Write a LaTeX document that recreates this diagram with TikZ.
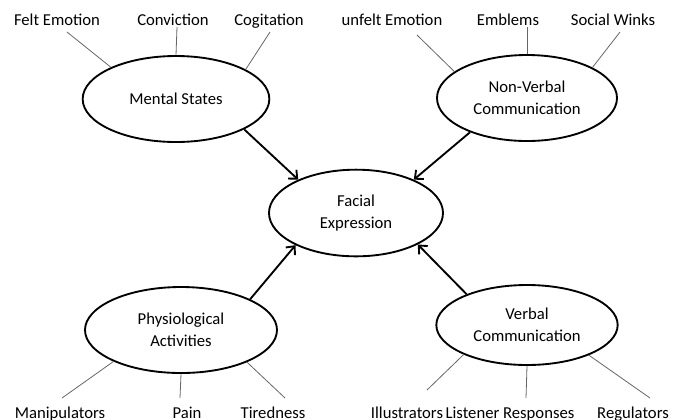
\documentclass[tikz,border=0pt]{standalone}
\usepackage{fontspec}
\setmainfont{Carlito}
\usetikzlibrary{shapes.geometric,arrows.meta}

\begin{document}
\begin{tikzpicture}[x=0.75pt,y=-0.75pt,
	bubble/.style={ellipse,draw,line width=1.4pt,inner sep=0pt,align=center,font=\fontsize{12.5}{16.5}\selectfont},
	lbl/.style={anchor=base,inner sep=0pt,font=\fontsize{12.5}{15}\selectfont},
	spoke/.style={draw=black!60,line width=0.6pt},
	feed/.style={line width=1.4pt,-{Straight Barb[length=5pt,width=9pt]}}]
\useasboundingbox (0,0) rectangle (673,419);

% the five bubbles
\node[bubble,minimum width=140pt,minimum height=64.5pt] (mental) at (176,99) {Mental States};
\node[bubble,minimum width=135pt,minimum height=64.5pt] (nonverbal) at (527,98) {Non-Verbal\\Communication};
\node[bubble,minimum width=130.5pt,minimum height=65pt] (facial) at (356,213) {Facial\\Expression};
\node[bubble,minimum width=144pt,minimum height=64.5pt] (physio) at (181,330) {Physiological\\Activities};
\node[bubble,minimum width=136pt,minimum height=60pt] (verbal) at (527,325) {Verbal\\Communication};

% labels round the outer bubbles
\node[lbl] (felt) at (57,25) {Felt Emotion};
\node[lbl] (conviction) at (173,25) {Conviction};
\node[lbl] (cogitation) at (269,25) {Cogitation};
\node[lbl] (unfelt) at (392,25) {unfelt Emotion};
\node[lbl] (emblems) at (508,25) {Emblems};
\node[lbl] (winks) at (613,25) {Social Winks};
\node[lbl] (manip) at (60,418) {Manipulators};
\node[lbl] (pain) at (187,418) {Pain};
\node[lbl] (tired) at (273,418) {Tiredness};
\node[lbl] (illus) at (407,418) {Illustrators};
\node[lbl] (listener) at (510,418) {Listener Responses};
\node[lbl] (regul) at (633,418) {Regulators};

% free ends of the spokes
\coordinate (felt-end) at (67,32);
\coordinate (conviction-end) at (177,27);
\coordinate (cogitation-end) at (270,32);
\coordinate (unfelt-end) at (417,35);
\coordinate (emblems-end) at (527,27);
\coordinate (winks-end) at (620,32);
\coordinate (manip-end) at (62,398);
\coordinate (pain-end) at (180,398);
\coordinate (tired-end) at (285,398);
\coordinate (illus-end) at (427,390);
\coordinate (listener-end) at (526,398);
\coordinate (regul-end) at (650,398);

\draw[spoke] (mental.154.5) -- (felt-end);
\draw[spoke] (mental.north) -- (conviction-end);
\draw[spoke] (mental.23) -- (cogitation-end);
\draw[spoke] (nonverbal.160) -- (unfelt-end);
\draw[spoke] (nonverbal.north) -- (emblems-end);
\draw[spoke] (nonverbal.25.5) -- (winks-end);
\draw[spoke] (physio.205) -- (manip-end);
\draw[spoke] (physio.south) -- (pain-end);
\draw[spoke] (physio.334.5) -- (tired-end);
\draw[spoke] (verbal.205) -- (illus-end);
\draw[spoke] (verbal.south) -- (listener-end);
\draw[spoke] (verbal.334.5) -- (regul-end);

% arrows into the centre
\draw[feed] (mental.336) -- (facial.150);
\draw[feed] (nonverbal.211) -- (facial.30);
\draw[feed] (physio.24) -- (facial.208);
\draw[feed] (verbal.153) -- (facial.333);
\end{tikzpicture}
\end{document}
